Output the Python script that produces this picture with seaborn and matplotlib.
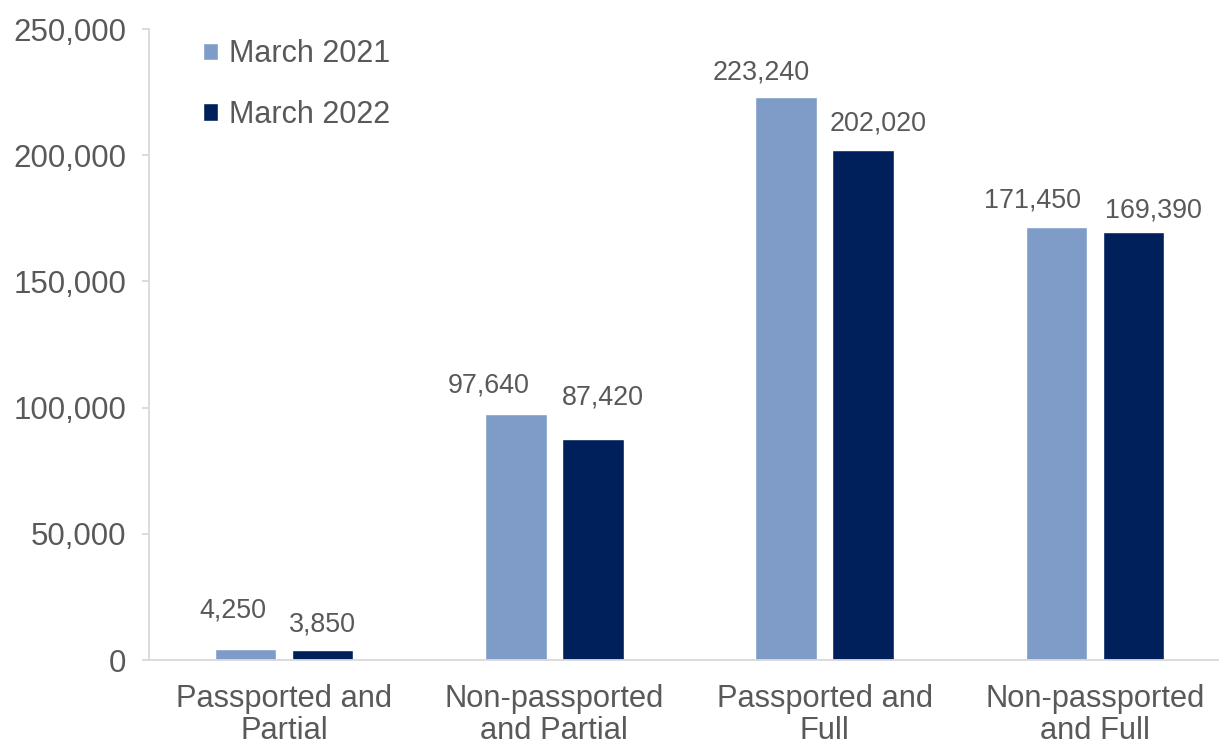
import matplotlib
matplotlib.use("Agg")
import matplotlib.pyplot as plt
import seaborn as sns
import pandas as pd
from matplotlib.transforms import offset_copy

categories = ["Passported and\nPartial", "Non-passported\nand Partial",
              "Passported and\nFull", "Non-passported\nand Full"]
periods = ["March 2021", "March 2022"]
march_2021 = [4250, 97640, 223240, 171450]
march_2022 = [3850, 87420, 202020, 169390]
y_ticks = [0, 50000, 100000, 150000, 200000, 250000]

# label nudges in pixels (dx, dy above bar top), per series
label_nudge_2021 = [(-13, 39), (-27, 28), (-25, 24), (-24, 27)]
label_nudge_2022 = [(0, 26), (10, 42), (15, 27), (20, 22)]

df = pd.DataFrame({
    "category": categories * 2,
    "period": [periods[0]] * 4 + [periods[1]] * 4,
    "value": march_2021 + march_2022,
})

sns.set_theme(style="white")
plt.rcParams["font.family"] = ["Liberation Sans", "DejaVu Sans"]
text_color = "#595959"
axis_color = "#D9D9D9"

fig = plt.figure(figsize=(12.19, 7.47), dpi=100)
ax = fig.add_axes([149 / 1219, 87 / 747, 1081 / 1219, 631 / 747])

sns.barplot(data=df, x="category", y="value", hue="period",
            palette=["#7F9CC8", "#00205B"], width=0.57, gap=0.2,
            order=categories, hue_order=periods, ax=ax, saturation=1)

ax.set_ylim(0, 250000)
ax.set_xlim(-0.5, 3.5)
ax.set_yticks(y_ticks)
ax.set_yticklabels([f"{v:,}" for v in y_ticks])
ax.set_xlabel("")
ax.set_ylabel("")

for side in ["top", "right"]:
    ax.spines[side].set_visible(False)
for side in ["left", "bottom"]:
    ax.spines[side].set_color(axis_color)
    ax.spines[side].set_linewidth(1.3)

ax.tick_params(axis="y", which="major", left=True, length=5, width=1.3,
               color=axis_color, pad=11.5, labelsize=22.5, labelcolor=text_color)
ax.tick_params(axis="x", bottom=False, pad=11.5, labelsize=22.2,
               labelcolor=text_color)
for lbl in ax.get_xticklabels():
    lbl.set_linespacing(1.07)

for container, values, nudges in zip(ax.containers,
                                     [march_2021, march_2022],
                                     [label_nudge_2021, label_nudge_2022]):
    for bar, val, (dx, dy) in zip(container, values, nudges):
        cx = bar.get_x() + bar.get_width() / 2
        tr = offset_copy(ax.transData, fig=fig, x=dx, y=dy, units="dots")
        ax.text(cx, val, f"{val:,}", transform=tr, ha="center", va="center",
                fontsize=19.4, color=text_color)

leg = ax.legend(loc="upper left", bbox_to_anchor=(0.033, 1.013), frameon=False,
                fontsize=22, handlelength=0.5, handleheight=0.5,
                handletextpad=0.35, labelspacing=1.0, borderaxespad=0.2)
for t in leg.get_texts():
    t.set_color(text_color)

fig.savefig("out.png", dpi=100)
